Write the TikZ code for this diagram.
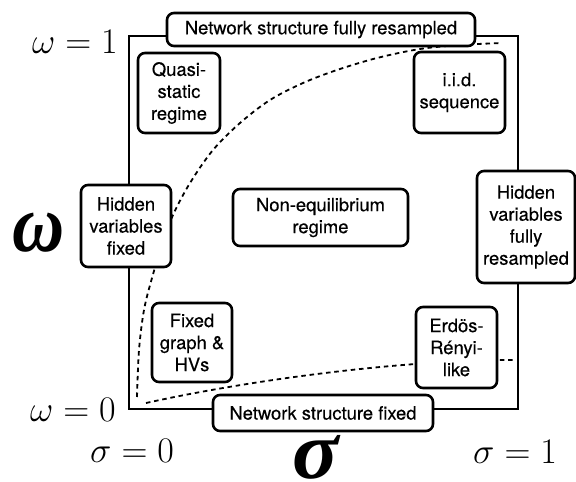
\RequirePackage{fix-cm}
\documentclass[tikz,border=0pt]{standalone}
\usepackage{fontspec}
\setmainfont{TeX Gyre Heros}[FakeBold=0.3]
\newfontfamily\tms{Liberation Serif}
\begin{document}
\begin{tikzpicture}[x=1pt,y=-1pt,
  regbox/.style={draw, line width=2.6pt, rounded corners=7pt, fill=white,
    align=center, inner sep=2pt, font=\fontsize{18.4}{22}\selectfont},
  frame/.style={draw, line width=2.9pt},
  bound/.style={line width=1.8pt, dash pattern=on 4.5pt off 3.8pt},
  axlabel/.style={inner sep=0pt, font=\fontsize{36}{40}\selectfont},
  biglabel/.style={inner sep=0pt, text height=40pt, text depth=1pt, font=\tms\bfseries\itshape\fontsize{82}{90}\selectfont}]
\useasboundingbox (0,0) rectangle (576,482);
% frame
\coordinate (tl) at (129,36);
\coordinate (br) at (518,409);
\draw[frame] (tl) rectangle (br);
% dashed boundaries
\draw[bound] plot[smooth, tension=0.55] coordinates {(137,397) (139,350) (144,310) (152,278) (162,245) (173,215) (190,183) (213,150) (240,123) (270,100) (303,83) (337,70) (377,58) (420,49) (460,45) (502,43)};
\coordinate (lowA) at (146,403);
\coordinate (lowB) at (513,360);
\draw[bound] (lowA) .. controls (250,380) and (400,360) .. (lowB);
% boxes
\node[regbox, minimum width=308pt, minimum height=33pt] (top) at (321,29.5) {Network structure fully resampled};
\node[regbox, minimum width=220pt, minimum height=36pt] (bot) at (323,413) {Network structure fixed};
\node[regbox, minimum width=82pt, minimum height=80pt] (quasi) at (179,93) {Quasi-\\static\\regime};
\node[regbox, minimum width=91pt, minimum height=81pt] (iid) at (459.5,92.5) {i.i.d.\\sequence};
\node[regbox, minimum width=90pt, minimum height=82pt] (hvf) at (126,226) {Hidden\\variables\\fixed};
\node[regbox, minimum width=175pt, minimum height=57pt] (neq) at (320.5,217.5) {Non-equilibrium\\regime};
\node[regbox, minimum width=98pt, minimum height=112pt] (hvfr) at (526,227) {Hidden\\variables\\fully\\resampled};
\node[regbox, minimum width=80pt, minimum height=79pt] (fg) at (192,342.5) {Fixed\\graph \&\\HVs};
\node[regbox, minimum width=81pt, minimum height=81pt] (er) at (456.5,347.5) {Erdös-\\Rényi-\\like};
% axis labels
\node[axlabel, anchor=base east] (w1) at (118,53) {$\omega = 1$};
\node[axlabel, anchor=base east] (w0) at (116,421) {$\omega = 0$};
\node[axlabel, anchor=base west] (s0) at (90,462) {$\sigma = 0$};
\node[axlabel, anchor=base west] (s1) at (473,463) {$\sigma = 1$};
\node[biglabel, anchor=base west] (wbig) at (12,251) {\scalebox{0.88}[1]{ω}};
\node[biglabel, anchor=base west] (sbig) at (292,478) {\scalebox{1.05}[1]{σ}};
\end{tikzpicture}
\end{document}
